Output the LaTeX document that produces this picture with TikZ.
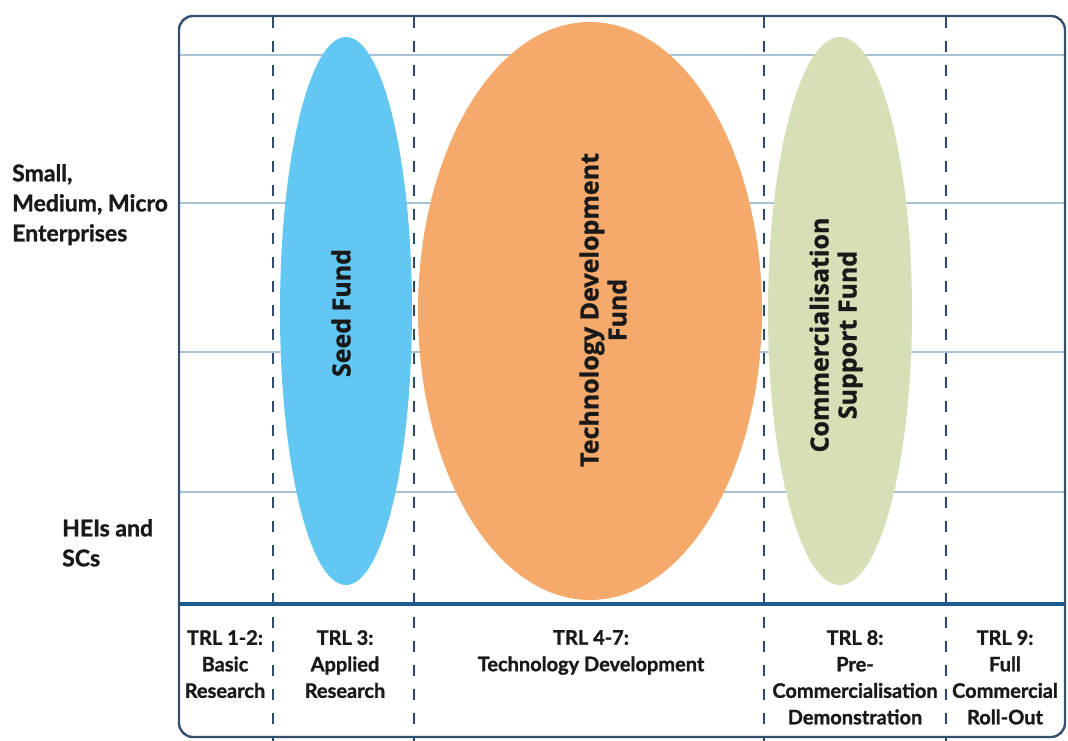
\documentclass[tikz,border=0pt]{standalone}
\usepackage{fontspec}
\setmainfont{Lato}[BoldFeatures={FakeBold=1.2}]
\newfontfamily\fundfont{Open Sans}[BoldFeatures={FakeBold=1}]
\usetikzlibrary{shapes.geometric}
\definecolor{frameC}{HTML}{34506F}
\definecolor{gridC}{HTML}{A9C3D5}
\definecolor{baseC}{HTML}{1F5C8E}
\definecolor{dashC}{HTML}{2E4B6C}
\definecolor{seedC}{HTML}{63C7F3}
\definecolor{techC}{HTML}{F5AA6B}
\definecolor{commC}{HTML}{D5E0B6}
\begin{document}
\begin{tikzpicture}[x=1pt,y=-1pt,
  gridline/.style={gridC,line width=1.6pt},
  stagesep/.style={dashC,line width=2.4pt,dash pattern=on 11pt off 13pt},
  fundtext/.style={font=\fundfont\bfseries\fontsize{25}{28}\selectfont,align=center,rotate=90,text=black!90},
  rowlabel/.style={font=\bfseries\fontsize{23}{30}\selectfont,align=left,anchor=north west,inner sep=0pt,text=black!90},
  stagelabel/.style={font=\bfseries\fontsize{20}{26.5}\selectfont,align=center,anchor=north,inner sep=0pt,text=black!90}]
\useasboundingbox (0,0) rectangle (1068,741);
% horizontal row guides
\foreach \yy in {55,203,352,492}
  \draw[gridline] (178,\yy) -- (1066,\yy);
% funding instruments
\path[fill=seedC] (346,311) ellipse [x radius=66, y radius=274];
\path[fill=techC] (590,311) ellipse [x radius=172, y radius=289];
\path[fill=commC] (840,311) ellipse [x radius=72, y radius=274];
% stage separators
\foreach \xx in {273,414,764,946}
  \draw[stagesep] (\xx,17) -- (\xx,741);
% axis between fund area and stages
\draw[baseC,line width=3.2pt] (178,604) -- (1066,604);
% outer frame
\draw[frameC,line width=2.4pt,rounded corners=14pt] (179,16) rectangle (1065,737);
% fund names
\node[fundtext] (seed) at (341,313) {Seed Fund};
\node[fundtext] (tech) at (603,310) {Technology Development\\Fund};
\node[fundtext] (comm) at (836,335) {Commercialisation\\Support Fund};
% row labels
\node[rowlabel] (sme) at (12,164) {Small,\\Medium, Micro\\Enterprises};
\node[rowlabel] (hei) at (62,519) {HEIs and\\SCs};
% stage labels
\node[stagelabel] (trl12) at (225,630) {TRL 1-2:\\Basic\\Research};
\node[stagelabel] (trl3) at (345,630) {TRL 3:\\Applied\\Research};
\node[stagelabel] (trl47) at (591,630) {TRL 4-7:\\Technology Development};
\node[stagelabel] (trl8) at (855,630) {TRL 8:\\Pre-\\Commercialisation\\Demonstration};
\node[stagelabel] (trl9) at (1005,630) {TRL 9:\\Full\\Commercial\\Roll-Out};
\end{tikzpicture}
\end{document}
